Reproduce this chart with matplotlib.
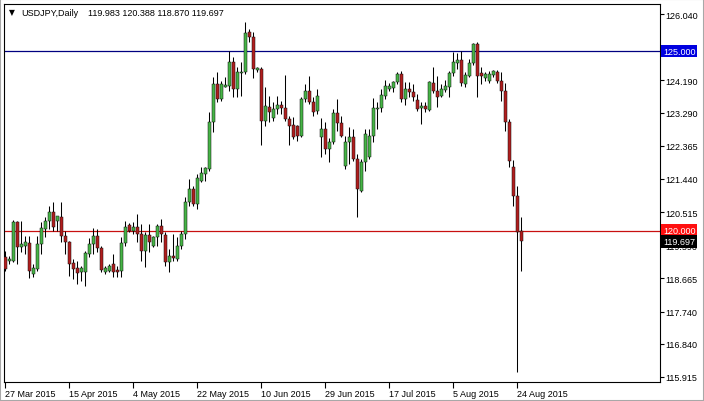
import numpy as np
import matplotlib.pyplot as plt
from matplotlib.patches import Rectangle
from matplotlib.transforms import blended_transform_factory

plt.rcParams['font.family'] = ['Liberation Sans', 'DejaVu Sans']

#%% data (daily bars, Sunday bars included)

symbol = 'USDJPY,Daily'
last_ohlc = '119.983 120.388 118.870 119.697'

opens = [119.26, 119.15, 119.15, 120.24, 119.54, 119.57, 119.65, 118.79, 118.93, 119.62,
         120.04, 120.27, 120.52, 120.27, 120.38, 119.85, 119.68, 119.09, 118.96, 118.84,
         118.84, 119.35, 119.62, 119.85, 119.51, 118.84, 118.87, 119.07, 118.90, 118.87,
         119.65, 120.15, 119.99, 120.10, 119.90, 119.43, 119.88, 119.57, 119.82, 120.13,
         119.88, 119.12, 119.29, 119.21, 119.57, 119.90, 120.79, 121.16, 120.74, 121.38,
         121.58, 121.72, 123.03, 124.09, 123.67, 124.00, 124.03, 124.70, 123.95, 124.39,
         124.42, 125.54, 125.40, 124.48, 124.51, 123.05, 123.45, 123.14, 123.39, 123.50,
         123.42, 123.11, 122.94, 122.92, 122.64, 123.67, 123.89, 123.59, 123.33, 122.61,
         122.83, 122.27, 122.47, 123.28, 123.00, 121.80, 122.47, 122.61, 122.00, 121.10,
         121.91, 122.05, 122.64, 123.39, 123.42, 123.75, 123.95, 123.98, 124.14, 124.37,
         123.67, 123.95, 123.86, 123.64, 123.42, 123.47, 123.36, 124.11, 123.89, 123.75,
         123.92, 124.00, 124.39, 124.67, 124.76, 124.09, 124.31, 124.67, 125.20, 124.39,
         124.26, 124.17, 124.34, 124.42, 124.17, 123.89, 123.03, 121.77, 120.96, 119.983]
highs = [119.43, 119.29, 120.29, 120.27, 120.27, 119.85, 119.85, 119.07, 119.85, 120.24,
         120.38, 120.68, 120.79, 120.41, 120.79, 119.99, 119.71, 119.21, 119.15, 119.01,
         119.43, 119.79, 120.07, 120.04, 119.57, 119.01, 119.07, 119.35, 119.01, 119.82,
         120.27, 120.21, 120.24, 120.46, 120.18, 119.96, 120.18, 119.85, 120.18, 120.32,
         119.96, 119.49, 119.90, 119.82, 119.99, 120.94, 121.44, 121.24, 121.58, 121.77,
         121.77, 123.31, 124.28, 124.42, 124.17, 124.28, 125.01, 124.84, 124.56, 124.70,
         125.82, 125.62, 125.54, 124.56, 124.56, 124.00, 123.75, 123.59, 123.75, 123.61,
         124.34, 123.19, 123.17, 122.94, 123.72, 124.09, 124.31, 123.72, 123.95, 123.14,
         123.03, 122.58, 123.39, 123.67, 123.19, 122.64, 122.89, 122.83, 122.13, 122.00,
         122.83, 122.83, 123.70, 123.59, 123.95, 124.20, 124.11, 124.17, 124.42, 124.45,
         124.14, 124.14, 124.09, 123.81, 123.59, 123.59, 124.17, 124.56, 124.31, 124.09,
         124.20, 124.45, 124.98, 124.95, 125.01, 124.42, 124.78, 125.23, 125.26, 124.56,
         124.42, 124.45, 124.48, 124.48, 124.42, 124.12, 123.11, 121.97, 121.24, 120.388]
lows = [118.87, 119.07, 119.12, 119.07, 119.40, 119.35, 118.68, 118.70, 118.87, 119.35,
        119.82, 120.04, 119.99, 119.99, 119.68, 119.35, 118.73, 118.65, 118.51, 118.59,
        118.45, 119.26, 119.35, 119.40, 118.84, 118.79, 118.84, 118.70, 118.70, 118.70,
        119.57, 119.96, 119.90, 119.68, 119.15, 118.98, 119.40, 119.54, 119.57, 119.68,
        119.01, 118.84, 119.15, 119.15, 119.49, 119.76, 120.68, 120.68, 120.60, 121.35,
        121.38, 121.66, 122.75, 123.59, 123.61, 124.00, 123.89, 123.72, 123.72, 123.75,
        124.37, 125.26, 124.26, 124.42, 122.39, 122.92, 123.03, 123.05, 123.25, 123.25,
        123.05, 122.39, 122.55, 122.50, 122.61, 123.59, 123.53, 123.19, 123.25, 122.05,
        122.13, 121.91, 122.41, 122.78, 122.61, 121.72, 121.86, 121.94, 120.38, 121.07,
        121.66, 122.00, 122.47, 122.83, 123.31, 123.67, 123.89, 123.86, 124.09, 123.59,
        123.50, 123.72, 123.61, 123.33, 122.97, 123.31, 123.33, 123.84, 123.45, 123.72,
        123.86, 123.72, 124.31, 124.51, 124.03, 124.00, 124.28, 124.62, 123.72, 124.09,
        124.17, 124.11, 124.28, 124.11, 123.61, 122.78, 121.77, 120.68, 116.05, 118.870]
closes = [118.93, 119.21, 120.24, 119.54, 119.62, 119.68, 118.87, 118.96, 119.62, 120.07,
          120.27, 120.52, 120.10, 120.41, 119.85, 119.68, 119.07, 118.93, 118.81, 118.96,
          119.37, 119.62, 119.85, 119.51, 118.90, 118.96, 119.01, 118.84, 118.84, 119.65,
          120.10, 119.99, 120.10, 119.90, 119.43, 119.88, 119.68, 119.82, 120.13, 119.90,
          119.12, 119.29, 119.23, 119.57, 119.90, 120.79, 121.16, 120.74, 121.47, 121.61,
          121.74, 123.03, 124.09, 123.67, 124.09, 124.06, 124.70, 123.95, 124.42, 124.42,
          125.51, 125.40, 124.51, 124.53, 123.05, 123.47, 123.31, 123.39, 123.50, 123.42,
          123.11, 122.92, 122.61, 122.64, 123.67, 123.89, 123.59, 123.31, 123.75, 122.83,
          122.27, 122.47, 123.28, 123.00, 122.64, 122.47, 122.61, 122.00, 121.16, 121.91,
          122.69, 122.64, 123.42, 123.42, 123.78, 124.03, 124.03, 124.14, 124.37, 123.67,
          123.95, 123.86, 123.72, 123.39, 123.47, 123.39, 124.14, 123.89, 123.72, 123.95,
          124.03, 124.39, 124.70, 124.76, 124.11, 124.34, 124.67, 125.20, 124.31, 124.31,
          124.37, 124.37, 124.45, 124.17, 123.89, 123.03, 121.94, 120.96, 119.96, 119.697]

date_labels = ['27 Mar 2015', '15 Apr 2015', '4 May 2015', '22 May 2015', '10 Jun 2015',
               '29 Jun 2015', '17 Jul 2015', '5 Aug 2015', '24 Aug 2015']
bars_per_label = 16

price_ticks = [126.040, 125.115, 124.190, 123.290, 122.365, 121.440,
               120.515, 119.590, 118.665, 117.740, 116.840, 115.915]

# horizontal levels drawn on the chart
level_values = [125.0, 120.0]
level_colors = ['#000080', '#c81010']
level_box_colors = ['#0000e0', '#ff1010']

#%% figure

W, H = 704, 402
fig = plt.figure(figsize=(W / 100, H / 100), dpi=100)
fig.patch.set_facecolor('white')
ax = fig.add_axes([4 / W, 1 - 383 / H, 656 / W, 378 / H])

o, h, l, c = map(np.array, (opens, highs, lows, closes))
x = np.arange(len(o))
up = c >= o

bull = '#46b446'
bear = '#b01e1e'

for val, col in zip(level_values, level_colors):
    ax.axhline(val, color=col, lw=0.9, zorder=1)

ax.vlines(x, l, h, color='black', lw=0.75, zorder=2)
ax.bar(x[up], (c - o)[up], bottom=o[up], width=0.75, color=bull,
       edgecolor='#101010', lw=0.35, zorder=3)
ax.bar(x[~up], (o - c)[~up], bottom=c[~up], width=0.75, color=bear,
       edgecolor='#101010', lw=0.35, zorder=3)

ax.set_xlim(-0.25, 163.75)
ax.set_ylim(115.775, 126.32)

# price axis on the right
ax.yaxis.tick_right()
ax.set_yticks(price_ticks)
ax.set_yticklabels([f'{v:.3f}' for v in price_ticks])
ax.tick_params(axis='y', direction='out', length=3, width=0.8, pad=1,
               labelsize=6.5, colors='black')

# date axis
xt = np.arange(len(date_labels)) * bars_per_label
ax.set_xticks(xt)
ax.set_xticklabels(date_labels, ha='left')
ax.tick_params(axis='x', direction='out', length=4, width=0.8, pad=1,
               labelsize=6.5, colors='black')

for s in ax.spines.values():
    s.set_color('black')
    s.set_linewidth(0.8)

# price boxes on the right edge
trans = blended_transform_factory(ax.transAxes, ax.transData)
box_vals = level_values + [closes[-1]]
box_cols = level_box_colors + ['black']
for val, col in zip(box_vals, box_cols):
    ax.text(1.0 + 3 / 656, val, f'{val:.3f}', transform=trans, ha='left', va='center',
            color='white', fontsize=6.5, clip_on=False, zorder=6,
            bbox=dict(boxstyle='square,pad=0.18', fc=col, ec='none'))

# header line
ty = 1 - 13 / H
fig.text(9 / W, ty, '\u25bc', fontsize=5.5, va='center', family=['DejaVu Sans'])
fig.text(21 / W, ty, symbol, fontsize=6.5, va='center')
fig.text(88 / W, ty, last_ohlc, fontsize=6.5, va='center')

# window frame
fig.patches.append(Rectangle((0, 0), 1, 1, transform=fig.transFigure, fill=False,
                             ec='#a8a8a8', lw=1.5))

fig.savefig('out.png', dpi=100)
